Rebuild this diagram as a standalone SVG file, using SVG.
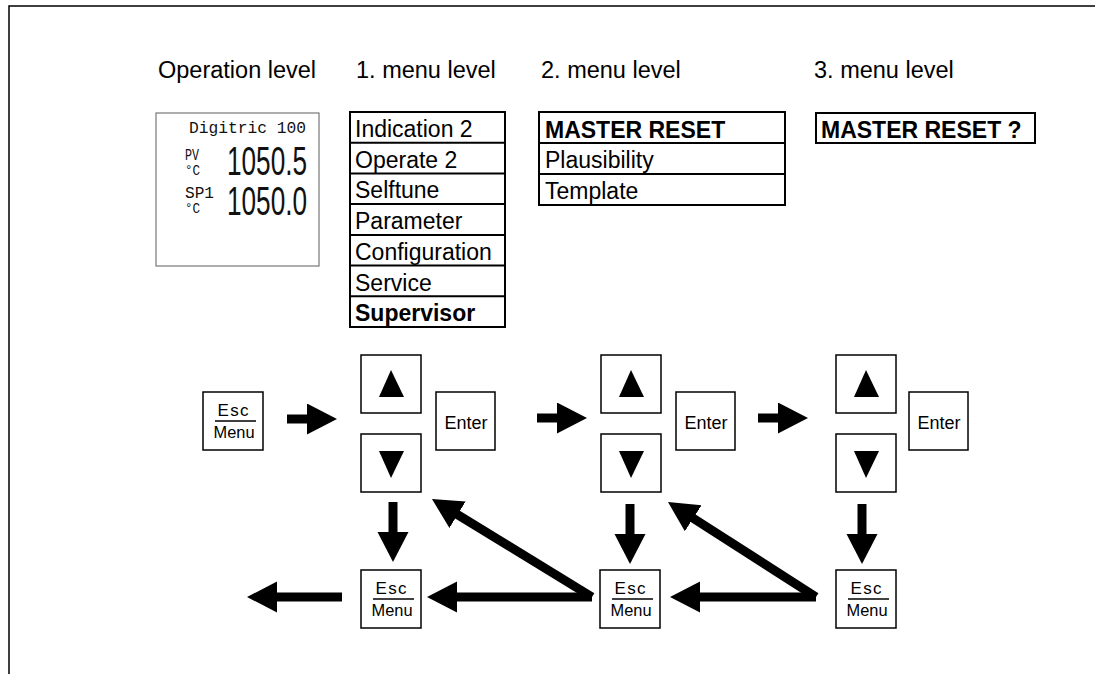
<svg xmlns="http://www.w3.org/2000/svg" width="1095" height="674" viewBox="0 0 1095 674">
<defs>
<style>
.t{font-family:"Liberation Sans",Arial,sans-serif;fill:#000}
.h{font-size:23.5px}
.m{font-size:23px}
.b{font-weight:bold}
.box{fill:#fff;stroke:#000;stroke-width:2}
.key{fill:#fff;stroke:#000;stroke-width:1.5}
.lcd{font-family:"Liberation Mono","DejaVu Sans Mono",monospace;fill:#111}
.seg{font-family:"Liberation Sans Narrow","Liberation Sans",sans-serif;fill:#111}
.ar{stroke:#000;stroke-width:9;fill:none;marker-end:url(#ah)}
.k{font-size:17px}
</style>
<marker id="ah" markerUnits="userSpaceOnUse" markerWidth="31" markerHeight="32" refX="1" refY="15.5" orient="auto" viewBox="0 0 31 32">
<path d="M0,0 L30,15.5 L0,31 z" fill="#000"/>
</marker>
<g id="escKey">
<rect class="key" x="0" y="0" width="60" height="58"/>
<text class="t k" x="30" y="24" text-anchor="middle" textLength="31" lengthAdjust="spacing">Esc</text>
<line x1="12" y1="29" x2="53" y2="29" stroke="#000" stroke-width="1.5"/>
<text class="t k" x="31" y="46" text-anchor="middle" textLength="41" lengthAdjust="spacingAndGlyphs">Menu</text>
</g>
<g id="upKey">
<rect class="key" x="0" y="0" width="60" height="58"/>
<path d="M18,42 L30,15 L43,42 z" fill="#000"/>
</g>
<g id="downKey">
<rect class="key" x="0" y="0" width="60" height="58"/>
<path d="M18,17 L43,17 L30,44 z" fill="#000"/>
</g>
<g id="enterKey">
<rect class="key" x="0" y="0" width="59" height="58"/>
<text class="t" x="30" y="37" font-size="18" text-anchor="middle" textLength="43" lengthAdjust="spacingAndGlyphs">Enter</text>
</g>
</defs>
<rect width="1095" height="674" fill="#fff"/>
<path d="M9,674 L9,6 L1095,6" fill="none" stroke="#000" stroke-width="1.5"/>

<g id="headers">
<text class="t h" x="158" y="78">Operation level</text>
<text class="t h" x="356" y="78">1. menu level</text>
<text class="t h" x="541" y="78">2. menu level</text>
<text class="t h" x="814" y="78">3. menu level</text>
</g>

<g id="lcd">
<rect x="156" y="113" width="163" height="153" fill="#fff" stroke="#777" stroke-width="1.2"/>
<text class="lcd" x="189" y="133" font-size="16" textLength="117" lengthAdjust="spacingAndGlyphs">Digitric 100</text>
<text class="lcd" x="185" y="160" font-size="16" textLength="14" lengthAdjust="spacingAndGlyphs">PV</text>
<text class="lcd" x="185" y="175" font-size="15" textLength="15" lengthAdjust="spacingAndGlyphs">°C</text>
<text class="lcd" x="185" y="198" font-size="16" textLength="29" lengthAdjust="spacingAndGlyphs">SP1</text>
<text class="lcd" x="185" y="213" font-size="15" textLength="15" lengthAdjust="spacingAndGlyphs">°C</text>
<text class="seg" x="227" y="175" font-size="40" textLength="80" lengthAdjust="spacingAndGlyphs">1050.5</text>
<text class="seg" x="227" y="215" font-size="40" textLength="80" lengthAdjust="spacingAndGlyphs">1050.0</text>
</g>

<g id="menu1">
<rect class="box" x="350" y="112" width="155" height="215"/>
<path d="M350,142.7H505M350,173.4H505M350,204.1H505M350,234.9H505M350,265.6H505M350,296.3H505" stroke="#000" stroke-width="2"/>
<text class="t m" x="355" y="137">Indication 2</text>
<text class="t m" x="355" y="167.7">Operate 2</text>
<text class="t m" x="355" y="198.4">Selftune</text>
<text class="t m" x="355" y="229.1">Parameter</text>
<text class="t m" x="355" y="259.9">Configuration</text>
<text class="t m" x="355" y="290.6">Service</text>
<text class="t m b" x="355" y="321.3">Supervisor</text>
</g>

<g id="menu2">
<rect class="box" x="539" y="112" width="246" height="93"/>
<path d="M539,143H785M539,174H785" stroke="#000" stroke-width="2"/>
<text class="t m b" x="545" y="138">MASTER RESET</text>
<text class="t m" x="545" y="168">Plausibility</text>
<text class="t m" x="545" y="199">Template</text>
</g>

<g id="menu3">
<rect class="box" x="816" y="113" width="219" height="30"/>
<text class="t m b" x="821" y="138">MASTER RESET ?</text>
</g>

<g id="esc0"><use href="#escKey" x="203" y="392"/></g>
<g id="up1"><use href="#upKey" x="361" y="355"/></g>
<g id="down1"><use href="#downKey" x="361" y="434"/></g>
<g id="enter1"><use href="#enterKey" x="436" y="392"/></g>
<g id="esc1"><use href="#escKey" x="361" y="570"/></g>
<g id="up2"><use href="#upKey" x="601" y="355"/></g>
<g id="down2"><use href="#downKey" x="601" y="434"/></g>
<g id="enter2"><use href="#enterKey" x="676" y="392"/></g>
<g id="esc2"><use href="#escKey" x="600" y="570"/></g>
<g id="up3"><use href="#upKey" x="836" y="355"/></g>
<g id="down3"><use href="#downKey" x="836" y="434"/></g>
<g id="enter3"><use href="#enterKey" x="909" y="392"/></g>
<g id="esc3"><use href="#escKey" x="836" y="570"/></g>

<g id="connectors">
<line class="ar" x1="287" y1="419" x2="308" y2="419"/>
<line class="ar" x1="537" y1="418" x2="558" y2="418"/>
<line class="ar" x1="758" y1="418" x2="779" y2="418"/>
<line class="ar" x1="393" y1="502" x2="393" y2="533"/>
<line class="ar" x1="630" y1="504" x2="630" y2="535"/>
<line class="ar" x1="862" y1="504" x2="862" y2="535"/>
<line class="ar" x1="342" y1="597" x2="276" y2="597"/>
<line class="ar" x1="592" y1="597" x2="456" y2="597"/>
<line class="ar" x1="816" y1="597" x2="699" y2="597"/>
<line class="ar" x1="592" y1="597" x2="456.7" y2="514.2"/>
<line class="ar" x1="816" y1="597" x2="692.4" y2="517.7"/>
</g>
</svg>
